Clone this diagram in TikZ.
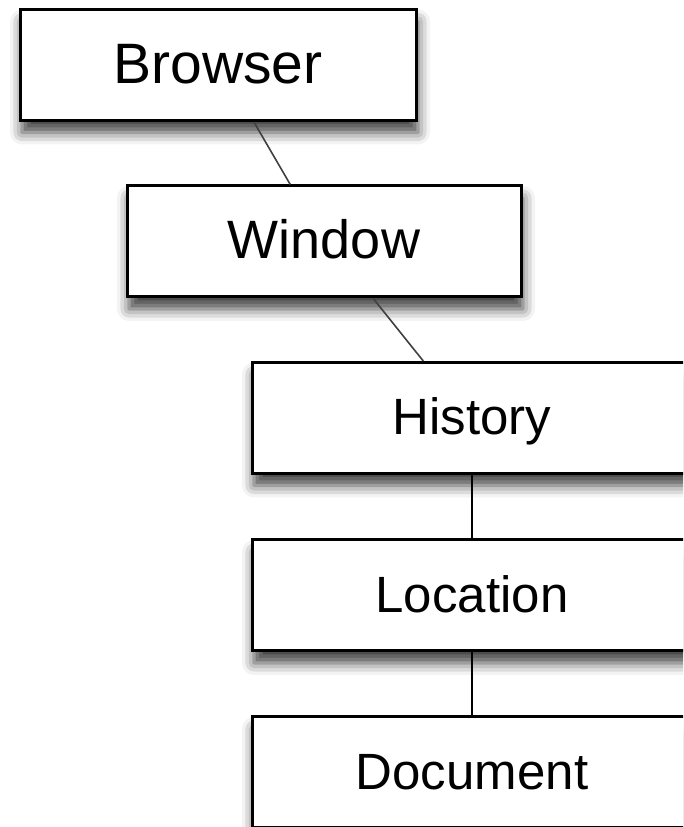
\documentclass[tikz,border=0pt]{standalone}
\usepackage{fontspec}
\setmainfont{Liberation Sans}
\usetikzlibrary{shadows.blur,calc}
\begin{document}
\begin{tikzpicture}[x=1pt,y=1pt,
  box/.style={draw=black, line width=3pt, fill=white, inner sep=0pt,
    minimum height=111pt, text height=34pt, text depth=0pt,
    font=\fontsize{51}{60}\selectfont,
    blur shadow={shadow xshift=2pt, shadow yshift=-12pt, shadow blur radius=12pt, shadow opacity=75}},
  slant/.style={line width=1.6pt, draw=black!75},
  straight/.style={line width=2pt, draw=black}]
\useasboundingbox (0,0) rectangle (683,827);
\clip (0,0) rectangle (683,827);
\node[box, minimum width=396pt, text height=38pt, font=\fontsize{57}{66}\selectfont] (Browser) at (218,762) {Browser};
\node[box, minimum width=394pt, text height=35pt, font=\fontsize{54}{62}\selectfont] (Window) at (324,585.5) {Window};
\node[box, minimum width=440pt] (History) at (472,409) {History};
\node[box, minimum width=440pt] (Location) at (472,231.5) {Location};
\node[box, minimum width=440pt] (Document) at (472,54.5) {Document};
\draw[slant] ($(Browser.south west)!0.59!(Browser.south east)$) -- ($(Window.north west)!0.415!(Window.north east)$);
\draw[slant] ($(Window.south west)!0.624!(Window.south east)$) -- ($(History.north west)!0.39!(History.north east)$);
\draw[straight] (History.south) -- (Location.north);
\draw[straight] (Location.south) -- (Document.north);
\end{tikzpicture}
\end{document}
